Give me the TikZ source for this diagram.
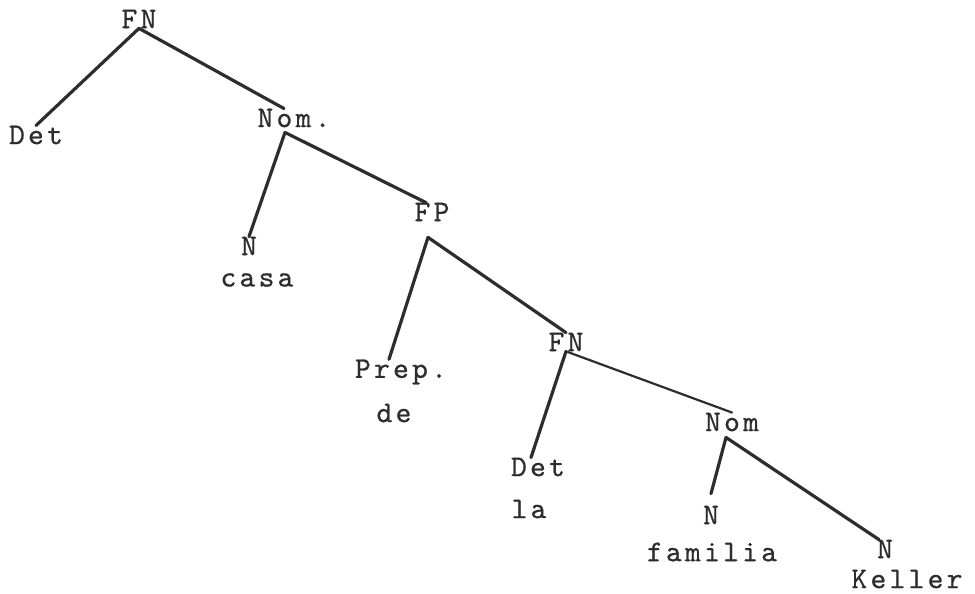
\documentclass[tikz,border=0pt]{standalone}
\usepackage{fontspec}
\newfontfamily\typefont[LetterSpace=11,FakeBold=0.7]{lmmono10-regular.otf}
\usepackage{tikz}
\definecolor{inkcolor}{RGB}{45,45,45}
\newcommand{\thickline}{3.2pt}
\newcommand{\thinline}{2.2pt}
\tikzset{
  lbl/.style={inner sep=0pt, text=inkcolor, font=\typefont\fontsize{30}{34}\selectfont},
  branch/.style={draw=inkcolor, line width=\thickline, line cap=round},
  thinbranch/.style={draw=inkcolor, line width=\thinline, line cap=round}
}

\begin{document}
\begin{tikzpicture}[x=1pt,y=-1pt]
\useasboundingbox (0,0) rectangle (975,594);
\node[lbl] (fn1) at (139, 19) {FN};
\node[lbl] (det1) at (36, 135) {Det};
\node[lbl] (nom1) at (294, 118) {Nom.};
\node[lbl] (n1) at (249, 246) {N};
\node[lbl] (w1) at (257, 280) {casa};
\node[lbl] (fp) at (432, 212) {FP};
\node[lbl] (prep) at (401, 372) {Prep.};
\node[lbl] (w2) at (394, 413) {de};
\node[lbl] (fn2) at (566, 342) {FN};
\node[lbl] (det2) at (538, 467) {Det};
\node[lbl] (w3) at (529, 509) {la};
\node[lbl] (nom2) at (732, 422) {Nom};
\node[lbl] (n2) at (711, 515) {N};
\node[lbl] (w4) at (712, 552) {familia};
\node[lbl] (n3) at (885, 549) {N};
\node[lbl] (w5) at (907, 579) {Keller};
% branches
\draw[branch] (fn1.south) -- (det1.north);
\draw[branch] (fn1.south) -- ([xshift=-10pt]nom1.north);
\draw[branch] ([xshift=-9pt,yshift=-5pt]nom1.south) coordinate (nomtop) -- (n1.north);
\draw[branch] (nomtop) -- ([xshift=-6pt]fp.north);
\draw[branch] ([xshift=-4pt,yshift=-16pt]fp.south) coordinate (fptop) -- ([xshift=-12pt]prep.north);
\draw[branch] (fptop) -- (fn2.north);
\draw[branch] (fn2.south) -- ([xshift=-7pt]det2.north);
\draw[thinbranch] (fn2.south) -- (nom2.north);
\draw[branch] ([xshift=-6pt,yshift=-6pt]nom2.south) coordinate (nomtwo) -- ([yshift=12pt]n2.north);
\draw[branch] (nomtwo) -- ([xshift=-6pt]n3.north);
\end{tikzpicture}
\end{document}
